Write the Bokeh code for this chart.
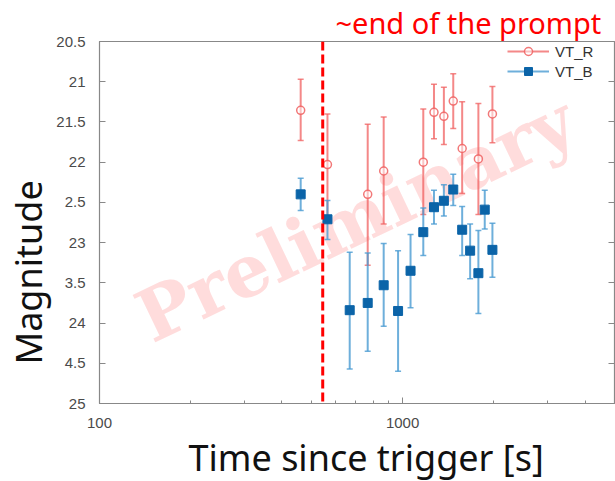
from bokeh.plotting import figure
from bokeh.models import (Range1d, FixedTicker, LinearAxis, Span, Label, Title,
                          Legend, LegendItem, ColumnDataSource)
from bokeh.embed import file_html
from bokeh.resources import INLINE

# ---- data ----
r_time = [461, 565, 767, 866, 1170, 1269, 1368, 1469, 1572, 1778, 1978]
r_mag = [21.355, 22.03, 22.40, 22.11, 22.00, 21.38, 21.43, 21.24, 21.83, 21.96, 21.40]
r_lo = [20.97, 21.40, 21.53, 21.44, 21.34, 21.03, 21.07, 20.90, 21.25, 21.27, 21.06]
r_hi = [21.73, 22.68, 23.28, 22.77, 22.65, 21.71, 21.78, 21.58, 22.39, 22.65, 21.76]

b_time = [461, 565, 669, 767, 866, 966, 1062, 1170, 1269, 1368, 1469, 1572, 1670, 1778, 1866, 1978]
b_mag = [22.40, 22.71, 23.84, 23.75, 23.53, 23.85, 23.35, 22.87, 22.56, 22.48, 22.34, 22.84, 23.10, 23.38, 22.59, 23.09]
b_lo = [22.20, 22.475, 23.12, 23.13, 23.01, 23.10, 22.90, 22.57, 22.35, 22.28, 22.15, 22.55, 22.77, 22.85, 22.35, 22.76]
b_hi = [22.60, 22.96, 24.57, 24.35, 24.04, 24.60, 23.81, 23.16, 22.77, 22.67, 22.54, 23.16, 23.45, 23.88, 22.83, 23.43]

prompt_end = 545

x_ticks = [100, 1000, 10000]
x_labels = ["100", "1000", "10000"]
x_minor = [200, 300, 400, 500, 600, 700, 800, 900, 2000, 3000, 4000, 5000, 6000, 7000, 8000, 9000]
y_ticks = [20.5, 21, 21.5, 22, 22.5, 23, 23.5, 24, 24.5, 25]
y_labels = ["20.5", "21", "21.5", "22", "2.5", "23", "3.5", "24", "4.5", "25"]

title_text = "~end of the prompt"
x_title = "Time since trigger [s]"
y_title = "Magnitude"
watermark = "Preliminary"

# ---- figure ----
p = figure(width=615, height=481, x_axis_type="log",
           x_range=Range1d(100, 5000), y_range=Range1d(25, 20.5),
           output_backend="svg", toolbar_location=None,
           min_border_left=97, min_border_right=1, min_border_top=40, min_border_bottom=77)
p.background_fill_color = "white"
p.border_fill_color = "white"
p.outline_line_color = "#888888"
p.outline_line_width = 1.2
p.xgrid.visible = False
p.ygrid.visible = False

p.title.text = title_text
p.title.text_color = "#ff0000"
p.title.text_font = "Noto Sans"
p.title.text_font_size = "29px"
p.title.text_font_style = "normal"
p.title.align = "left"
p.title.offset = 236
p.title.standoff = 0

lab_font = "Liberation Sans"
for ax in (p.xaxis[0], p.yaxis[0]):
    ax.axis_line_color = "#888888"
    ax.major_tick_line_color = "#888888"
    ax.minor_tick_line_color = "#888888"
    ax.major_tick_in = 6
    ax.major_tick_out = 0
    ax.minor_tick_in = 3
    ax.minor_tick_out = 0
    ax.major_label_text_font = lab_font
    ax.major_label_text_font_size = "15px"
    ax.major_label_text_color = "#4a4a4a"

p.xaxis[0].ticker = FixedTicker(ticks=x_ticks, minor_ticks=x_minor)
p.xaxis[0].major_label_overrides = dict(zip(x_ticks, x_labels))
p.xaxis[0].major_label_standoff = 14

p.yaxis[0].ticker = FixedTicker(ticks=y_ticks, minor_ticks=[])
p.yaxis[0].major_label_overrides = dict(zip(y_ticks, y_labels))
p.yaxis[0].major_label_standoff = 14

# mirrored ticks on the right
right_ax = LinearAxis(ticker=FixedTicker(ticks=y_ticks, minor_ticks=[]),
                      major_label_text_font_size="1px", major_label_text_alpha=0,
                      major_label_standoff=0,
                      axis_line_color=None, major_tick_line_color="#888888",
                      major_tick_in=6, major_tick_out=0, minor_tick_out=0)
p.add_layout(right_ax, "right")

# axis titles
p.add_layout(Title(text=x_title, align="left", offset=89, standoff=0,
                   text_font="Noto Sans", text_font_size="36px",
                   text_font_style="normal", text_color="#111111"), "below")
p.add_layout(Title(text=y_title, align="left", offset=39, standoff=2,
                   text_font="Noto Sans", text_font_size="36px",
                   text_font_style="normal", text_color="#111111"), "left")

# watermark
wm = Label(x=700, y=22.70, text=watermark, angle=25.5, angle_units="deg",
           text_align="center", text_baseline="middle",
           text_font="DejaVu Serif", text_font_style="bold", text_font_size="72px",
           text_color="#ffdcdc", level="underlay")
p.add_layout(wm)

# prompt-end dashed line
p.add_layout(Span(location=prompt_end, dimension="height", line_color="#ff0000",
                  line_width=3, line_dash="9 4"))

red = "#f06060"
blue_bar = "#4a9bd2"
blue_pt = "#0b64a8"

rs = ColumnDataSource(dict(t=r_time, m=r_mag, lo=r_lo, hi=r_hi))
bs = ColumnDataSource(dict(t=b_time, m=b_mag, lo=b_lo, hi=b_hi))

r_seg = p.segment(x0="t", y0="lo", x1="t", y1="hi", source=rs, line_color=red,
                  line_width=2, line_alpha=0.75)
p.scatter(x="t", y="lo", source=rs, marker="dash", size=6, line_color=red, line_width=1.5, line_alpha=0.75)
p.scatter(x="t", y="hi", source=rs, marker="dash", size=6, line_color=red, line_width=1.5, line_alpha=0.75)
r_pts = p.scatter(x="t", y="m", source=rs, marker="circle", size=8, line_color=red,
                  line_width=1.5, fill_color="#ffffff", fill_alpha=0.5, line_alpha=0.85)

b_seg = p.segment(x0="t", y0="lo", x1="t", y1="hi", source=bs, line_color=blue_bar,
                  line_width=2, line_alpha=0.8)
p.scatter(x="t", y="lo", source=bs, marker="dash", size=6, line_color=blue_bar, line_width=1.5, line_alpha=0.8)
p.scatter(x="t", y="hi", source=bs, marker="dash", size=6, line_color=blue_bar, line_width=1.5, line_alpha=0.8)
b_pts = p.scatter(x="t", y="m", source=bs, marker="square", size=9, line_color=blue_pt,
                  fill_color=blue_pt, line_width=1)

legend = Legend(items=[LegendItem(label="VT_R", renderers=[r_seg, r_pts]),
                       LegendItem(label="VT_B", renderers=[b_seg, b_pts])],
                location=(408, 322), padding=0, spacing=0, margin=0,
                glyph_width=42, glyph_height=20, label_height=20,
                label_standoff=6,
                label_text_font=lab_font, label_text_font_size="15px",
                label_text_color="#333333",
                background_fill_alpha=0, border_line_color=None)
p.add_layout(legend, "center")

open("out.html", "w").write(file_html(p, INLINE))
